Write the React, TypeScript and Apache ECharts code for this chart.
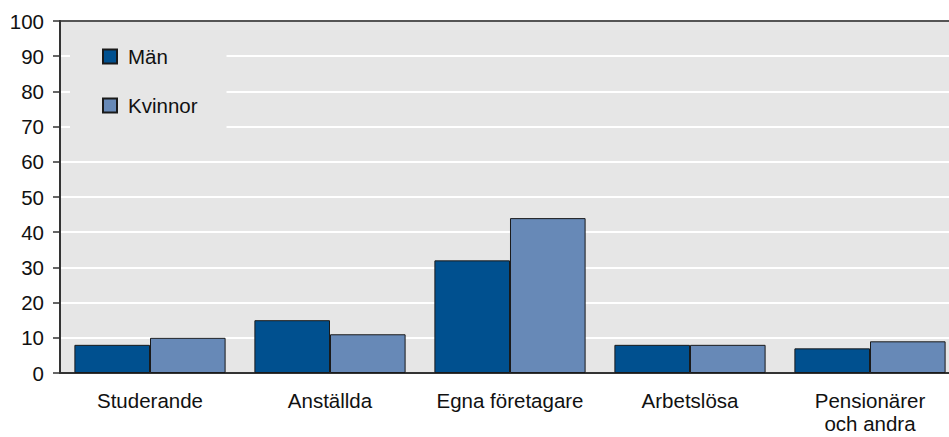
import React, { useEffect, useRef } from "react";
import * as echarts from "echarts";

const categories = ["Studerande", "Anställda", "Egna företagare", "Arbetslösa", "Pensionärer\noch andra"];
const manValues = [8, 15, 32, 8, 7];
const kvinnorValues = [10, 11, 44, 8, 9];
const seriesNames = ["Män", "Kvinnor"];

const FONT = "Liberation Sans, Arial, sans-serif";
const FS = 20.5;

export default function App() {
  const ref = useRef<HTMLDivElement>(null);
  useEffect(() => {
    if (!ref.current) return;
    const chart = echarts.init(ref.current, undefined, { renderer: "svg" });
    chart.setOption({
      animation: false,
      textStyle: { fontFamily: FONT },
      grid: {
        left: 60,
        right: 20,
        top: 21,
        bottom: 64,
        show: true,
        backgroundColor: "#e6e6e6",
        borderWidth: 2,
        borderColor: "#555555",
      },
      legend: {
        orient: "vertical",
        left: 70,
        top: 26,
        padding: [20, 29, 26, 32],
        backgroundColor: "#e6e6e6",
        itemWidth: 14,
        itemHeight: 14,
        itemGap: 28,
        icon: "rect",
        data: seriesNames,
        textStyle: { fontFamily: FONT, fontSize: FS, color: "#111", lineHeight: 20, padding: [0, 0, 0, 6] },
        z: 10,
      },
      xAxis: {
        type: "category",
        data: categories,
        axisTick: { show: false },
        axisLine: { show: true, lineStyle: { color: "#333", width: 2 } },
        axisLabel: { fontFamily: FONT, fontSize: FS, color: "#111", lineHeight: 23, margin: 16, interval: 0 },
        splitLine: { show: false },
      },
      yAxis: {
        type: "value",
        min: 0,
        max: 100,
        interval: 10,
        axisLine: { show: true, lineStyle: { color: "#333", width: 2 } },
        axisTick: { show: true, inside: false, length: 7, lineStyle: { color: "#333", width: 1.5 } },
        axisLabel: { fontFamily: FONT, fontSize: FS, color: "#111", margin: 16 },
        splitLine: { show: true, showMaxLine: false, lineStyle: { color: "#ffffff", width: 2 } },
      },
      series: [
        {
          name: seriesNames[0],
          type: "bar",
          data: manValues,
          barGap: "0%",
          barCategoryGap: "16%",
          itemStyle: { color: "#00508f", borderColor: "#1a1a1a", borderWidth: 1 },
        },
        {
          name: seriesNames[1],
          type: "bar",
          data: kvinnorValues,
          barGap: "0%",
          barCategoryGap: "16%",
          itemStyle: { color: "#6789b7", borderColor: "#1a1a1a", borderWidth: 1 },
        },
      ],
    });
    return () => chart.dispose();
  }, []);
  return (
    <div style={{ position: "absolute", left: 0, top: 0, width: 949, height: 437, overflow: "hidden", background: "#fff" }}>
      <div ref={ref} style={{ width: 980, height: 437 }} />
    </div>
  );
}
